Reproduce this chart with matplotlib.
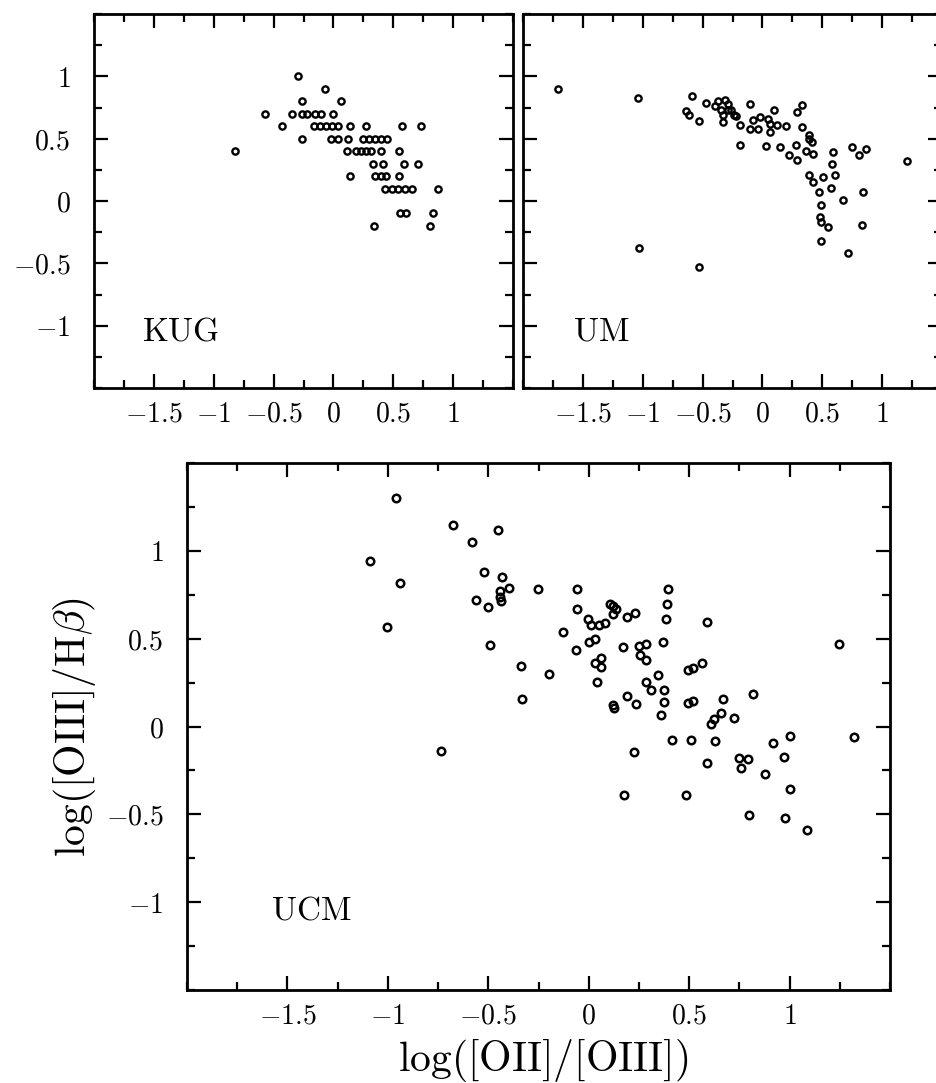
import matplotlib
matplotlib.use("Agg")
import matplotlib.pyplot as plt
from matplotlib.ticker import FixedLocator, MultipleLocator, FuncFormatter

plt.rcParams['mathtext.fontset'] = 'cm'
plt.rcParams['font.family'] = ['DejaVu Serif']

# KUG sample
kug_x = [-0.30, -0.07, -0.26, 0.06,
         -0.57, -0.35, -0.26, -0.22, -0.15, -0.10, 0.00,
         -0.43, -0.16, -0.11, -0.06, -0.01, 0.04, 0.14, 0.27, 0.57, 0.73,
         -0.26, -0.02, 0.04, 0.12, 0.25, 0.30, 0.35, 0.40, 0.45,
         -0.82, 0.11, 0.19, 0.23, 0.27, 0.31, 0.40, 0.55,
         0.33, 0.41, 0.59, 0.71,
         0.14, 0.35, 0.40, 0.44, 0.55,
         0.43, 0.49, 0.54, 0.60, 0.66, 0.87,
         0.56, 0.61, 0.83,
         0.34, 0.81]
kug_y = [1.0, 0.9, 0.8, 0.8,
         0.7, 0.7, 0.7, 0.7, 0.7, 0.7, 0.7,
         0.6, 0.6, 0.6, 0.6, 0.6, 0.6, 0.6, 0.6, 0.6, 0.6,
         0.5, 0.5, 0.5, 0.5, 0.5, 0.5, 0.5, 0.5, 0.5,
         0.4, 0.4, 0.4, 0.4, 0.4, 0.4, 0.4, 0.4,
         0.3, 0.3, 0.3, 0.3,
         0.2, 0.2, 0.2, 0.2, 0.2,
         0.1, 0.1, 0.1, 0.1, 0.1, 0.1,
         -0.1, -0.1, -0.1,
         -0.2, -0.2]

# UM sample
um_x = [-1.71, -1.04, -1.03, -0.53,
        -0.59, -0.64, -0.61, -0.53, -0.47,
        -0.40, -0.37, -0.35, -0.33, -0.31, -0.29, -0.29, -0.26, -0.24, -0.22, -0.33, -0.19, -0.19,
        -0.10, -0.08, -0.02, -0.10, -0.04, 0.05, 0.10, 0.06, 0.06, 0.12, 0.20, 0.03, 0.15,
        0.29, 0.33, 0.33, 0.39, 0.39, 0.41, 0.28, 0.22, 0.29, 0.36, 0.42,
        0.59, 0.58, 0.61, 0.51, 0.39, 0.42, 0.47, 0.57, 0.67, 0.84,
        0.49, 0.485, 0.49, 0.55, 0.83, 0.49, 0.715,
        0.75, 0.81, 0.865, 1.21]
um_y = [0.90, 0.83, -0.38, -0.53,
        0.84, 0.72, 0.69, 0.64, 0.79,
        0.76, 0.80, 0.73, 0.69, 0.81, 0.78, 0.73, 0.73, 0.69, 0.68, 0.63, 0.61, 0.45,
        0.78, 0.65, 0.67, 0.575, 0.58, 0.66, 0.73, 0.62, 0.555, 0.61, 0.60, 0.44, 0.435,
        0.71, 0.77, 0.59, 0.53, 0.50, 0.47, 0.45, 0.37, 0.33, 0.40, 0.38,
        0.39, 0.30, 0.21, 0.19, 0.21, 0.15, 0.075, 0.105, 0.01, 0.075,
        -0.035, -0.125, -0.165, -0.205, -0.19, -0.32, -0.415,
        0.43, 0.37, 0.415, 0.32]

# UCM sample
ucm_x = [-0.96, -0.675, -0.454, -0.579, -1.087, -0.94, -0.52, -0.43, -0.395, -0.44,
         -0.44, -0.437, -0.56, -0.50, -0.254, -0.056, -0.056, -0.005, -1.004, -0.13,
         -0.49, -0.338, -0.33, -0.737,
         0.012, 0.05, 0.08, 0.0, 0.03, -0.063, -0.196, 0.03, 0.06, 0.06, 0.043,
         0.106, 0.12, 0.136, 0.12, 0.19, 0.228, 0.173, 0.248, 0.284, 0.256, 0.286,
         0.284, 0.308, 0.343, 0.376, 0.376, 0.36, 0.372, 0.384, 0.39, 0.394,
         0.19, 0.236, 0.12, 0.125, 0.223, 0.178, 0.417, 0.509, 0.485, 0.494,
         0.517, 0.564, 0.492, 0.517, 0.589, 0.668, 0.66, 0.625, 0.61, 0.725,
         0.818, 0.63, 0.59, 0.747, 0.793, 0.76, 0.88, 0.918, 1.0, 0.971,
         1.004, 0.796, 0.979, 1.087, 1.245, 1.323]
ucm_y = [1.30, 1.146, 1.12, 1.048, 0.94, 0.816, 0.877, 0.85, 0.79, 0.77,
         0.74, 0.716, 0.72, 0.68, 0.78, 0.78, 0.67, 0.61, 0.568, 0.54,
         0.466, 0.347, 0.157, -0.142,
         0.58, 0.58, 0.59, 0.483, 0.498, 0.436, 0.30, 0.362, 0.39, 0.337, 0.256,
         0.70, 0.684, 0.669, 0.64, 0.625, 0.644, 0.455, 0.46, 0.468, 0.407, 0.38,
         0.252, 0.208, 0.295, 0.208, 0.142, 0.066, 0.483, 0.612, 0.70, 0.78,
         0.176, 0.127, 0.12, 0.105, -0.146, -0.39, -0.076, -0.076, -0.39, 0.324,
         0.333, 0.36, 0.133, 0.148, 0.593, 0.157, 0.078, 0.04, 0.014, 0.051,
         0.186, -0.085, -0.206, -0.178, -0.183, -0.235, -0.273, -0.094, -0.055, -0.174,
         -0.354, -0.506, -0.52, -0.59, 0.47, -0.06]

x_major = [-1.5, -1, -0.5, 0, 0.5, 1]
y_major = [-1, -0.5, 0, 0.5, 1]

W, H = 936, 1083
fig = plt.figure(figsize=(W / 100, H / 100), dpi=100)


def box(x0, y0, x1, y1):
    # pixel box (top-left origin) -> figure fraction
    return [x0 / W, 1 - y1 / H, (x1 - x0) / W, (y1 - y0) / H]


def fmt(v, pos):
    if abs(v) < 1e-9:
        return r'$0$'
    return r'$%g$' % v


def setup(ax, show_y=True):
    ax.set_xlim(-2, 1.5)
    ax.set_ylim(-1.5, 1.5)
    ax.xaxis.set_major_locator(FixedLocator(x_major))
    ax.yaxis.set_major_locator(FixedLocator(y_major))
    ax.xaxis.set_minor_locator(MultipleLocator(0.25))
    ax.yaxis.set_minor_locator(MultipleLocator(0.25))
    ax.xaxis.set_major_formatter(FuncFormatter(fmt))
    ax.yaxis.set_major_formatter(FuncFormatter(fmt))
    ax.tick_params(which='both', direction='in', top=True, right=True,
                   width=1.6, labelsize=20)
    ax.tick_params(which='major', length=10)
    ax.tick_params(which='minor', length=5.5)
    ax.tick_params(axis='x', pad=9)
    ax.tick_params(axis='y', pad=17)
    if not show_y:
        ax.tick_params(axis='y', labelleft=False)
    for s in ax.spines.values():
        s.set_linewidth(2.0)


ax1 = fig.add_axes(box(94, 14, 513, 388))
ax2 = fig.add_axes(box(523, 14, 942, 388))
ax3 = fig.add_axes(box(187, 463, 890, 990))

for ax in (ax1, ax2, ax3):
    setup(ax, show_y=(ax is not ax2))

ax1.plot(kug_x, kug_y, 'o', ms=4.5, mfc='none', mec='black', mew=1.7)
ax2.plot(um_x, um_y, 'o', ms=4.5, mfc='none', mec='black', mew=1.7)
ax3.plot(ucm_x, ucm_y, 'o', ms=5.4, mfc='none', mec='black', mew=1.8)

ax1.text(-1.6, -1.12, r'$\mathrm{KUG}$', fontsize=24, va='baseline')
ax2.text(-1.58, -1.12, r'$\mathrm{UM}$', fontsize=24, va='baseline')
ax3.text(-1.58, -1.10, r'$\mathrm{UCM}$', fontsize=24, va='baseline')

fig.text(543 / W, 1 - 1071 / H, r'$\log([\mathrm{OII}]/[\mathrm{OIII}])$',
         fontsize=30, ha='center', va='baseline')
fig.text(75 / W, 1 - 727 / H, r'$\log([\mathrm{OIII}]/\mathrm{H}\beta)$',
         fontsize=30, ha='center', va='center', rotation=90)

fig.savefig('out.png', dpi=100)
